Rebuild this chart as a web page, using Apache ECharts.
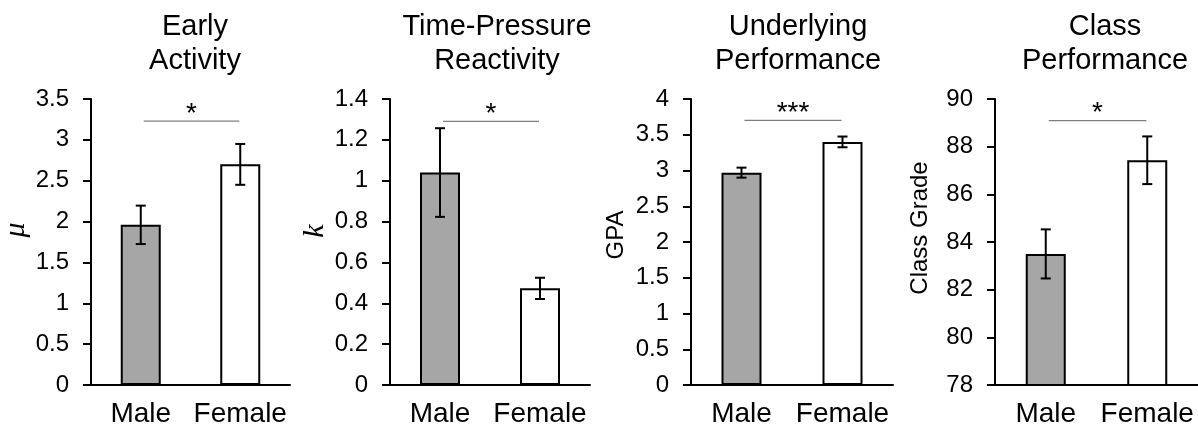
<!DOCTYPE html>
<html>
<head>
<meta charset="utf-8">
<script src="https://cdn.jsdelivr.net/npm/echarts@6/dist/echarts.min.js"></script>
<style>
html,body{margin:0;padding:0;background:#fff;}
#c{width:1198px;height:432px;}
</style>
</head>
<body>
<div id="c"></div>
<script>
// ---- data ----
const categories = ['Male', 'Female'];
const panelTitles = ['Early\nActivity', 'Time-Pressure\nReactivity', 'Underlying\nPerformance', 'Class\nPerformance'];
const axisNames = ['μ', 'k', 'GPA', 'Class Grade'];
const earlyActivity = [1.96, 2.70];
const earlyActivityErr = [0.235, 0.25];
const timePressure = [1.04, 0.473];
const timePressureErr = [0.217, 0.052];
const underlyingGPA = [2.97, 3.40];
const underlyingGPAErr = [0.07, 0.075];
const classGrade = [83.5, 87.43];
const classGradeErr = [1.03, 1.0];
const yMin = [0, 0, 0, 78];
const yMax = [3.5, 1.4, 4, 90];
const yInterval = [0.5, 0.2, 0.5, 2];
const sigLevel = [3.23, 1.29, 3.70, 89.09];
const sigLabels = ['*', '*', '***', '*'];

const means = [earlyActivity, timePressure, underlyingGPA, classGrade];
const errs = [earlyActivityErr, timePressureErr, underlyingGPAErr, classGradeErr];

// ---- layout / style ----
const gridLeft = [90, 390, 691, 995];
const gridWidth = [200, 200, 202, 208];
const gridTop = 99, gridHeight = 286;
const titleCenter = [190, 492, 793, 1100];
const namePadLeft = [24, 22, 14, 28];
const barColors = ['#a6a6a6', '#ffffff'];
const FONT = "'Liberation Sans', Arial, sans-serif";
const TXT = '#000';

const chart = echarts.init(document.getElementById('c'), null, {renderer: 'canvas'});

const grid = [], xAxis = [], yAxis = [], title = [], series = [];
for (let i = 0; i < 4; i++) {
  grid.push({left: gridLeft[i], top: gridTop, width: gridWidth[i], height: gridHeight, containLabel: false});
  title.push({
    text: panelTitles[i], left: titleCenter[i], top: 5, textAlign: 'center',
    textStyle: {fontFamily: FONT, fontSize: 29, fontWeight: 'normal', color: TXT, lineHeight: 34}
  });
  xAxis.push({
    type: 'category', gridIndex: i, data: categories,
    axisLine: {lineStyle: {color: '#000', width: 2}},
    axisTick: {show: false},
    axisLabel: {fontFamily: FONT, fontSize: 28, color: TXT, margin: 15, interval: 0, hideOverlap: false}
  });
  const italic = i < 2;
  yAxis.push({
    type: 'value', gridIndex: i, min: yMin[i], max: yMax[i], interval: yInterval[i],
    splitLine: {show: false},
    axisLine: {show: true, lineStyle: {color: '#000', width: 2}},
    axisTick: {show: true, length: 8, lineStyle: {color: '#000', width: 2}},
    axisLabel: {fontFamily: FONT, fontSize: 24, color: TXT, margin: 22},
    name: axisNames[i], nameLocation: 'middle', nameRotate: 90,
    nameGap: italic ? 60 : 63,
    nameTextStyle: {
      fontFamily: italic ? "'Liberation Serif', 'DejaVu Serif', serif" : FONT,
      fontStyle: italic ? 'italic' : 'normal',
      fontSize: italic ? 30 : 24, color: TXT,
      padding: [0, 0, 0, namePadLeft[i]]
    }
  });
  series.push({
    type: 'bar', xAxisIndex: i, yAxisIndex: i, barWidth: 40,
    data: means[i].map((v, k) => ({value: v, itemStyle: {color: barColors[k], borderColor: '#000', borderWidth: 2}})),
    silent: true, animation: false
  });
  const errData = means[i].map((v, k) => [k, v, errs[i][k]]);
  series.push({
    type: 'custom', xAxisIndex: i, yAxisIndex: i, animation: false, silent: true,
    data: errData, z: 5,
    renderItem: function (params, api) {
      const x = api.value(0), m = api.value(1), e = api.value(2);
      const hi = api.coord([x, m + e]), lo = api.coord([x, m - e]);
      const cw = 5;
      const st = {stroke: '#000', lineWidth: 2};
      return {type: 'group', children: [
        {type: 'line', shape: {x1: hi[0], y1: hi[1], x2: lo[0], y2: lo[1]}, style: st},
        {type: 'line', shape: {x1: hi[0] - cw, y1: hi[1], x2: hi[0] + cw, y2: hi[1]}, style: st},
        {type: 'line', shape: {x1: lo[0] - cw, y1: lo[1], x2: lo[0] + cw, y2: lo[1]}, style: st}
      ]};
    }
  });
  const idx = i;
  series.push({
    type: 'custom', xAxisIndex: i, yAxisIndex: i, animation: false, silent: true,
    data: [[0, sigLevel[i], 1]], z: 5,
    renderItem: function (params, api) {
      const y = api.value(1);
      const a = api.coord([api.value(0), y]), b = api.coord([api.value(2), y]);
      return {type: 'group', children: [
        {type: 'line', shape: {x1: a[0] + 3, y1: a[1], x2: b[0] - 1, y2: b[1]}, style: {stroke: '#7f7f7f', lineWidth: 1.3}},
        {type: 'text', x: (a[0] + b[0]) / 2 + 1, y: a[1] + 7,
         style: {text: sigLabels[idx], fontFamily: FONT, fontSize: 28, fill: TXT, align: 'center', verticalAlign: 'bottom'}}
      ]};
    }
  });
}

chart.setOption({
  animation: false,
  backgroundColor: '#fff',
  title: title, grid: grid, xAxis: xAxis, yAxis: yAxis, series: series
});
</script>
</body>
</html>
